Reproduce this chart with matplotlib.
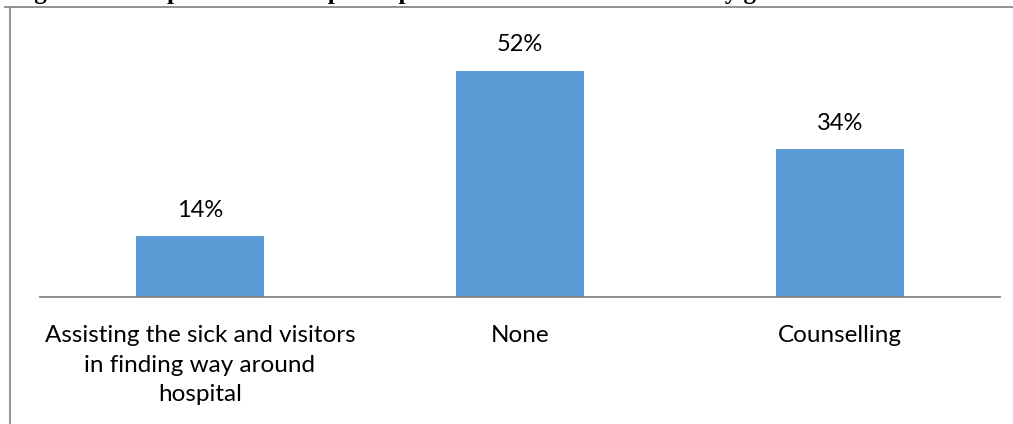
import matplotlib.pyplot as plt
from matplotlib.lines import Line2D

categories = ["Assisting the sick and visitors\nin finding way around\nhospital", "None", "Counselling"]
values = [14, 52, 34]
value_labels = ["14%", "52%", "34%"]
title = "Figure 14: Responsibilities of participants other than main duties by gender"

W, H = 1013, 424
fig = plt.figure(figsize=(W / 100, H / 100), dpi=100)

# plot area in pixels: left 40, right 1000, baseline 297, top 36 (=60%)
ax = fig.add_axes([40 / W, 1 - 297 / H, 960 / W, (297 - 36) / H])
x = range(len(categories))
bars = ax.bar(x, values, width=0.4, color="#5b9bd5")
ax.set_xlim(-0.5, len(categories) - 0.5)
ax.set_ylim(0, 60)

for s in ["top", "right", "left"]:
    ax.spines[s].set_visible(False)
ax.spines["bottom"].set_color("#868686")
ax.spines["bottom"].set_linewidth(1.3)
ax.set_yticks([])
ax.set_xticks(list(x))
ax.set_xticklabels(categories, fontsize=17.5, family="Lato", linespacing=1.52)
ax.tick_params(axis="x", length=0, pad=20)

for b, lab in zip(bars, value_labels):
    ax.annotate(lab, (b.get_x() + b.get_width() / 2, b.get_height()),
                xytext=(0, 14), textcoords="offset points", ha="center", va="baseline",
                fontsize=17, family="Lato")

# chart border (cropped)
fig.add_artist(Line2D([5 / W, 1], [1 - 7 / H, 1 - 7 / H], color="#898989", lw=1.3))
fig.add_artist(Line2D([10 / W, 10 / W], [0, 1 - 7 / H], color="#898989", lw=1.3))

# title, mostly cut off at the top
fig.text(12 / W, 1 + 1 / H, title, fontsize=18, weight="bold", family="Liberation Serif",
         va="baseline", ha="left")

fig.savefig("out.png", dpi=100)
